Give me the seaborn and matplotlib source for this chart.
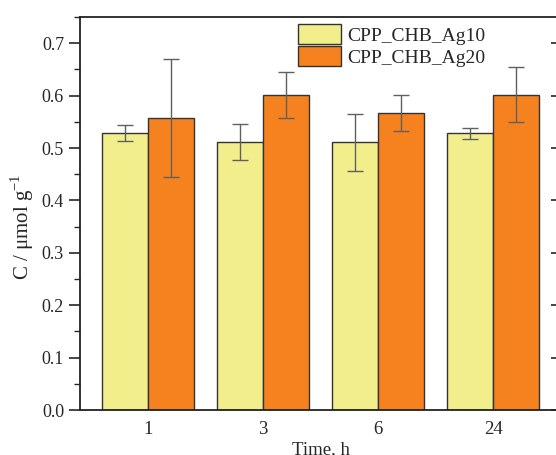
import pandas as pd
import seaborn as sns
import numpy as np
import matplotlib.pyplot as plt
from matplotlib.ticker import MultipleLocator, NullLocator

times = ['1', '3', '6', '24']
series = ['CPP_CHB_Ag10', 'CPP_CHB_Ag20']
ag10 = [0.529, 0.512, 0.511, 0.528]
ag20 = [0.557, 0.601, 0.567, 0.602]
ag10_err = [0.015, 0.034, 0.054, 0.011]
ag20_err = [0.113, 0.044, 0.034, 0.052]

colors = ['#F2EE8C', '#F5821F']

sns.set_style('ticks')
plt.rcParams['font.family'] = ['Liberation Serif', 'DejaVu Serif']
plt.rcParams['mathtext.fontset'] = 'custom'
plt.rcParams['mathtext.rm'] = 'Liberation Serif'

df = pd.DataFrame({
    'Time': times * 2,
    'Series': [series[0]] * 4 + [series[1]] * 4,
    'C': ag10 + ag20,
    'err': ag10_err + ag20_err,
})

fig = plt.figure(figsize=(5.56, 4.55), dpi=100)
ax = fig.add_axes([0.1439, 0.0989, 0.867, 0.8637])

sns.barplot(data=df, x='Time', y='C', hue='Series', palette=colors,
            errorbar=None, width=0.8, edgecolor='#333333', linewidth=1.0,
            saturation=1, ax=ax)

# error bars at bar centres
bars = [p for p in ax.patches if p.get_height() > 0][:8]
xs = [b.get_x() + b.get_width() / 2 for b in bars]
hs = [b.get_height() for b in bars]
ax.errorbar(xs, hs, yerr=df['err'], fmt='none', ecolor='#606060',
            elinewidth=1.0, capsize=6, capthick=1.0, zorder=5)

ax.set_xlim(-0.594, 3.60)
ax.set_ylim(0, 0.75)
ax.yaxis.set_major_locator(MultipleLocator(0.1))
ax.yaxis.set_minor_locator(MultipleLocator(0.05))
ax.yaxis.set_major_formatter(plt.FormatStrFormatter('%.1f'))
ax.tick_params(axis='y', which='major', direction='out', length=8, width=1.2,
               labelsize=13)
ax.tick_params(axis='y', which='minor', direction='out', length=4, width=1.0)
ax.tick_params(axis='x', length=0, labelsize=13.5, pad=8)

# mirrored ticks on the right, pointing in
sec = ax.secondary_yaxis('right')
sec.yaxis.set_major_locator(MultipleLocator(0.1))
sec.yaxis.set_minor_locator(NullLocator())
sec.tick_params(which='major', direction='in', length=8, width=1.2, labelright=False)

for s in ax.spines.values():
    s.set_linewidth(1.3)
    s.set_color('#222222')

ax.set_xlabel('Time, h', fontsize=13.5, labelpad=2)
ax.set_ylabel(r'C / μmol g$^{\mathregular{-1}}$', fontsize=15)
ax.yaxis.set_label_coords(-0.092, 0.465)

ax.legend(frameon=False, fontsize=14, loc='upper left',
          bbox_to_anchor=(298 / 556, 1 - 24 / 455), bbox_transform=fig.transFigure,
          handlelength=2.2, handleheight=1.2, handletextpad=0.35,
          labelspacing=0.1, borderaxespad=0, borderpad=0)

fig.savefig('out.png', dpi=100)
